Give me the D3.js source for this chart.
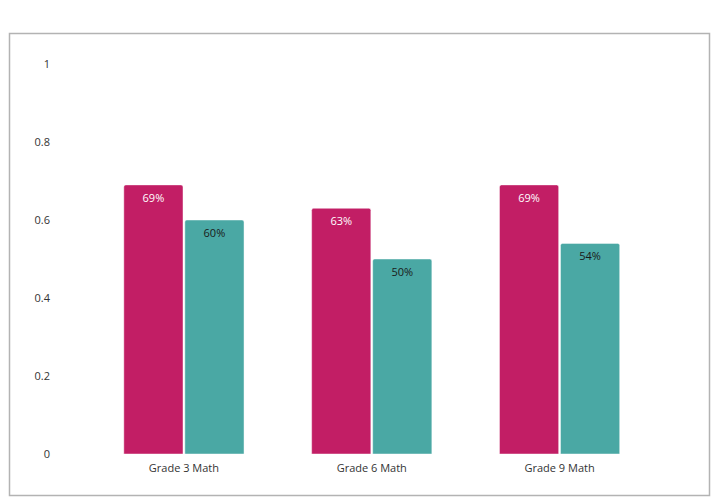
<!DOCTYPE html>
<html><head><meta charset="utf-8">
<script src="https://cdn.jsdelivr.net/npm/d3@7"></script>
<style>body{margin:0;background:#fff;font-family:"Open Sans",sans-serif;}</style>
</head><body><svg id="c" width="712" height="500"></svg>
<script>
const categories = ["Grade 3 Math","Grade 6 Math","Grade 9 Math"];
const seriesA = [0.69,0.63,0.69];
const seriesB = [0.60,0.50,0.54];
const yTicks = [0,0.2,0.4,0.6,0.8,1];
const colors = ["#c21e65","#4aa8a4"];
const labelColors = ["#ffffff","#1a1a1a"];

const svg = d3.select("#c");
svg.append("rect").attr("x",9.5).attr("y",33.5).attr("width",700).attr("height",462)
  .attr("fill","none").attr("stroke","#b3b3b3").attr("stroke-width",1.5);

const y = d3.scaleLinear().domain([0,1]).range([454,64]);
const x0 = d3.scaleBand().domain(categories).range([90,653.5]).paddingInner(0.36).paddingOuter(0.18);
const x1 = d3.scaleBand().domain([0,1]).range([0,x0.bandwidth()]).paddingInner(0.03);

const yAxis = svg.append("g").attr("transform","translate(50,0)")
  .call(d3.axisLeft(y).tickValues(yTicks).tickSize(0).tickPadding(0).tickFormat(d3.format("")));
yAxis.select(".domain").remove();
yAxis.selectAll("text").attr("font-family","Open Sans").attr("font-size",11).attr("fill","#333");

const xAxis = svg.append("g").attr("transform","translate(0,454)")
  .call(d3.axisBottom(x0).tickSize(0).tickPadding(10));
xAxis.select(".domain").remove();
xAxis.selectAll("text").attr("font-family","Open Sans").attr("font-size",11).attr("fill","#333");

const series = [seriesA, seriesB];
categories.forEach((c,i)=>{
  const g = svg.append("g").attr("transform",`translate(${x0(c)},0)`);
  series.forEach((s,j)=>{
    const v = s[i];
    const bx = x1(j), bw = x1.bandwidth(), top = y(v), bot = y(0), r = 2;
    const path = `M${bx},${bot} V${top+r} Q${bx},${top} ${bx+r},${top} H${bx+bw-r} Q${bx+bw},${top} ${bx+bw},${top+r} V${bot} Z`;
    g.append("path").attr("d",path).attr("fill",colors[j])
      .attr("stroke","rgba(255,255,255,0.45)").attr("stroke-width",1);
    g.append("text").attr("x",bx+bw/2).attr("y",top+17).attr("text-anchor","middle")
      .attr("font-family","Open Sans").attr("font-size",11).attr("fill",labelColors[j])
      .text(Math.round(v*100)+"%");
  });
});
</script></body></html>
